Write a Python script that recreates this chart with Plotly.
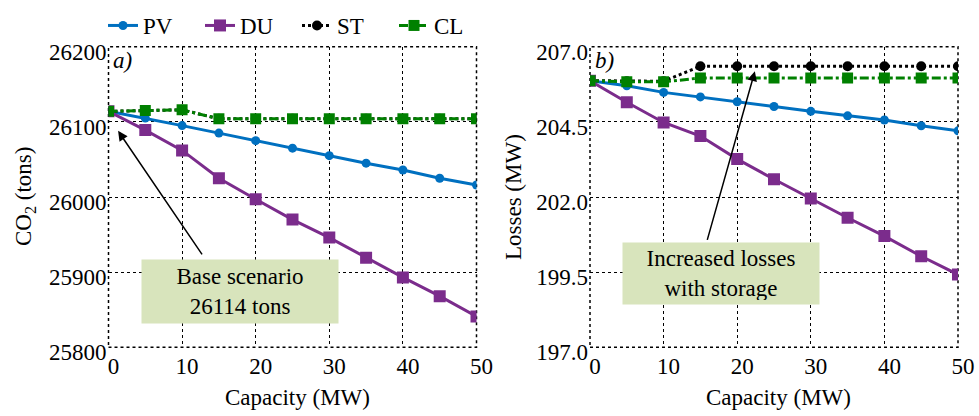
import plotly.graph_objects as go

capacity = [0, 5, 10, 15, 20, 25, 30, 35, 40, 45, 50]

# Panel a) CO2 (tons)
co2_pv = [26114, 26105, 26095, 26085, 26075, 26065, 26055, 26045, 26036, 26025, 26016]
co2_du = [26114, 26089, 26062, 26025, 25997, 25970, 25946, 25919, 25893, 25868, 25841]
co2_st = [26114, 26115, 26116, 26104, 26104, 26104, 26104, 26104, 26104, 26104, 26104]
co2_cl = [26114, 26115, 26116, 26104, 26104, 26104, 26104, 26104, 26104, 26104, 26104]

# Panel b) Losses (MW)
loss_pv = [205.87, 205.70, 205.48, 205.33, 205.17, 205.01, 204.85, 204.70, 204.56, 204.37, 204.20]
loss_du = [205.87, 205.15, 204.48, 204.03, 203.26, 202.59, 201.95, 201.31, 200.70, 200.03, 199.42]
loss_st = [205.87, 205.85, 205.85, 206.35, 206.35, 206.35, 206.35, 206.35, 206.35, 206.35, 206.35]
loss_cl = [205.87, 205.83, 205.83, 205.96, 205.96, 205.96, 205.96, 205.96, 205.96, 205.96, 205.96]

y_ticks_a = [25800, 25900, 26000, 26100, 26200]
y_ticks_b = [197.0, 199.5, 202.0, 204.5, 207.0]
x_ticks = [0, 10, 20, 30, 40, 50]

FONT = "Liberation Serif, Times New Roman, Times, serif"
FS = 23
W, H = 979, 416


def px(x):
    return x / W


def py(y):
    return (H - y) / H


series = [
    ("PV", "#0070C0", "solid", "circle", 9, co2_pv, loss_pv),
    ("DU", "#7B2C8C", "solid", "square", 12, co2_du, loss_du),
    ("ST", "#000000", "dot", "circle", 10, co2_st, loss_st),
    ("CL", "#008000", "dashdot", "square", 11, co2_cl, loss_cl),
]

fig = go.Figure()
for name, color, dash, sym, ms, ya, yb in series:
    fig.add_trace(go.Scatter(x=capacity, y=ya, name=name, mode="lines+markers",
                             line=dict(color=color, width=3, dash=dash),
                             marker=dict(symbol=sym, size=ms, color=color),
                             xaxis="x", yaxis="y", legendgroup=name, showlegend=True))
for name, color, dash, sym, ms, ya, yb in series:
    fig.add_trace(go.Scatter(x=capacity, y=yb, name=name, mode="lines+markers",
                             line=dict(color=color, width=3, dash=dash),
                             marker=dict(symbol=sym, size=ms, color=color),
                             xaxis="x2", yaxis="y2", legendgroup=name, showlegend=False))

top_px, bot_px = 46.7, 347.3
ydom = [py(bot_px), py(top_px)]

axis_common = dict(showgrid=True, gridcolor="black", griddash="dot", gridwidth=1,
                   zeroline=False, showline=False, ticks="",
                   tickfont=dict(family=FONT, size=FS, color="black"), automargin=False)

fig.update_layout(
    width=W, height=H,
    margin=dict(l=0, r=0, t=0, b=0),
    paper_bgcolor="white", plot_bgcolor="white",
    font=dict(family=FONT, size=FS, color="black"),
    xaxis=dict(domain=[px(108.5), px(476.5)], range=[0, 50], tickvals=x_ticks,
               anchor="y", ticklabelshift=5, ticklabelstandoff=3, **axis_common),
    yaxis=dict(domain=ydom, range=[25800, 26200], tickvals=y_ticks_a,
               ticktext=[str(v) for v in y_ticks_a],
               anchor="x", ticklabelshift=5, ticklabelstandoff=1, **axis_common),
    xaxis2=dict(domain=[px(590), px(958)], range=[0, 50], tickvals=x_ticks,
                anchor="y2", ticklabelshift=5, ticklabelstandoff=3, **axis_common),
    yaxis2=dict(domain=ydom, range=[197, 207], tickvals=y_ticks_b,
                ticktext=[f"{v:.1f}" for v in y_ticks_b],
                anchor="x2", ticklabelshift=5, ticklabelstandoff=1, **axis_common),
    legend=dict(orientation="h", x=px(103), xanchor="left", y=py(4), yanchor="top",
                font=dict(family=FONT, size=FS), bgcolor="rgba(0,0,0,0)",
                tracegroupgap=0, itemwidth=30, entrywidth=52, entrywidthmode="pixels",
                itemclick=False),
    showlegend=True,
)

# dotted frames
for xr, yr in [("x", "y"), ("x2", "y2")]:
    fig.add_shape(type="rect", xref=f"{xr} domain", yref=f"{yr} domain",
                  x0=0, x1=1, y0=0, y1=1, line=dict(color="black", width=1.5, dash="dot"),
                  layer="below")

ann = []
# axis titles
ann.append(dict(text="Capacity (MW)", x=px(297), y=py(397), xref="paper", yref="paper",
                showarrow=False, font=dict(size=FS), xanchor="center", yanchor="middle"))
ann.append(dict(text="Capacity (MW)", x=px(778), y=py(397), xref="paper", yref="paper",
                showarrow=False, font=dict(size=FS), xanchor="center", yanchor="middle"))
ann.append(dict(text="CO<sub>2</sub> (tons)", x=px(25), y=py(197), xref="paper", yref="paper",
                showarrow=False, textangle=-90, font=dict(size=FS), xanchor="center", yanchor="middle"))
ann.append(dict(text="Losses (MW)", x=px(513), y=py(197), xref="paper", yref="paper",
                showarrow=False, textangle=-90, font=dict(size=FS), xanchor="center", yanchor="middle"))
# panel labels
ann.append(dict(text="<i>a)</i>", x=0.4, y=26182, xref="x", yref="y", showarrow=False,
                xanchor="left", yanchor="middle", font=dict(size=FS)))
ann.append(dict(text="<i>b)</i>", x=0.4, y=206.55, xref="x2", yref="y2", showarrow=False,
                xanchor="left", yanchor="middle", font=dict(size=FS)))
# arrows
ann.append(dict(text="", x=1.3, y=26088, xref="x", yref="y", showarrow=True,
                ax=85, ay=125, arrowhead=2, arrowsize=1.3, arrowwidth=1.5, arrowcolor="black"))
ann.append(dict(text="", x=22.4, y=206.18, xref="x2", yref="y2", showarrow=True,
                ax=-48, ay=170, arrowhead=2, arrowsize=1.3, arrowwidth=1.5, arrowcolor="black"))
# boxes
ann.append(dict(text="Base scenario<br>26114 tons", x=px(240), y=py(291),
                xref="paper", yref="paper", showarrow=False, bgcolor="#D8E4BC",
                width=188, height=55, align="center", font=dict(size=FS), borderpad=4,
                xanchor="center", yanchor="middle"))
ann.append(dict(text="Increased losses<br>with storage", x=px(721), y=py(273.5),
                xref="paper", yref="paper", showarrow=False, bgcolor="#D8E4BC",
                width=188, height=53, align="center", font=dict(size=FS), borderpad=4,
                xanchor="center", yanchor="middle"))
fig.update_layout(annotations=ann)

fig.write_html("out.html", config={"displayModeBar": False},
               post_script="document.body.style.margin='0px';document.body.style.overflow='hidden';")
